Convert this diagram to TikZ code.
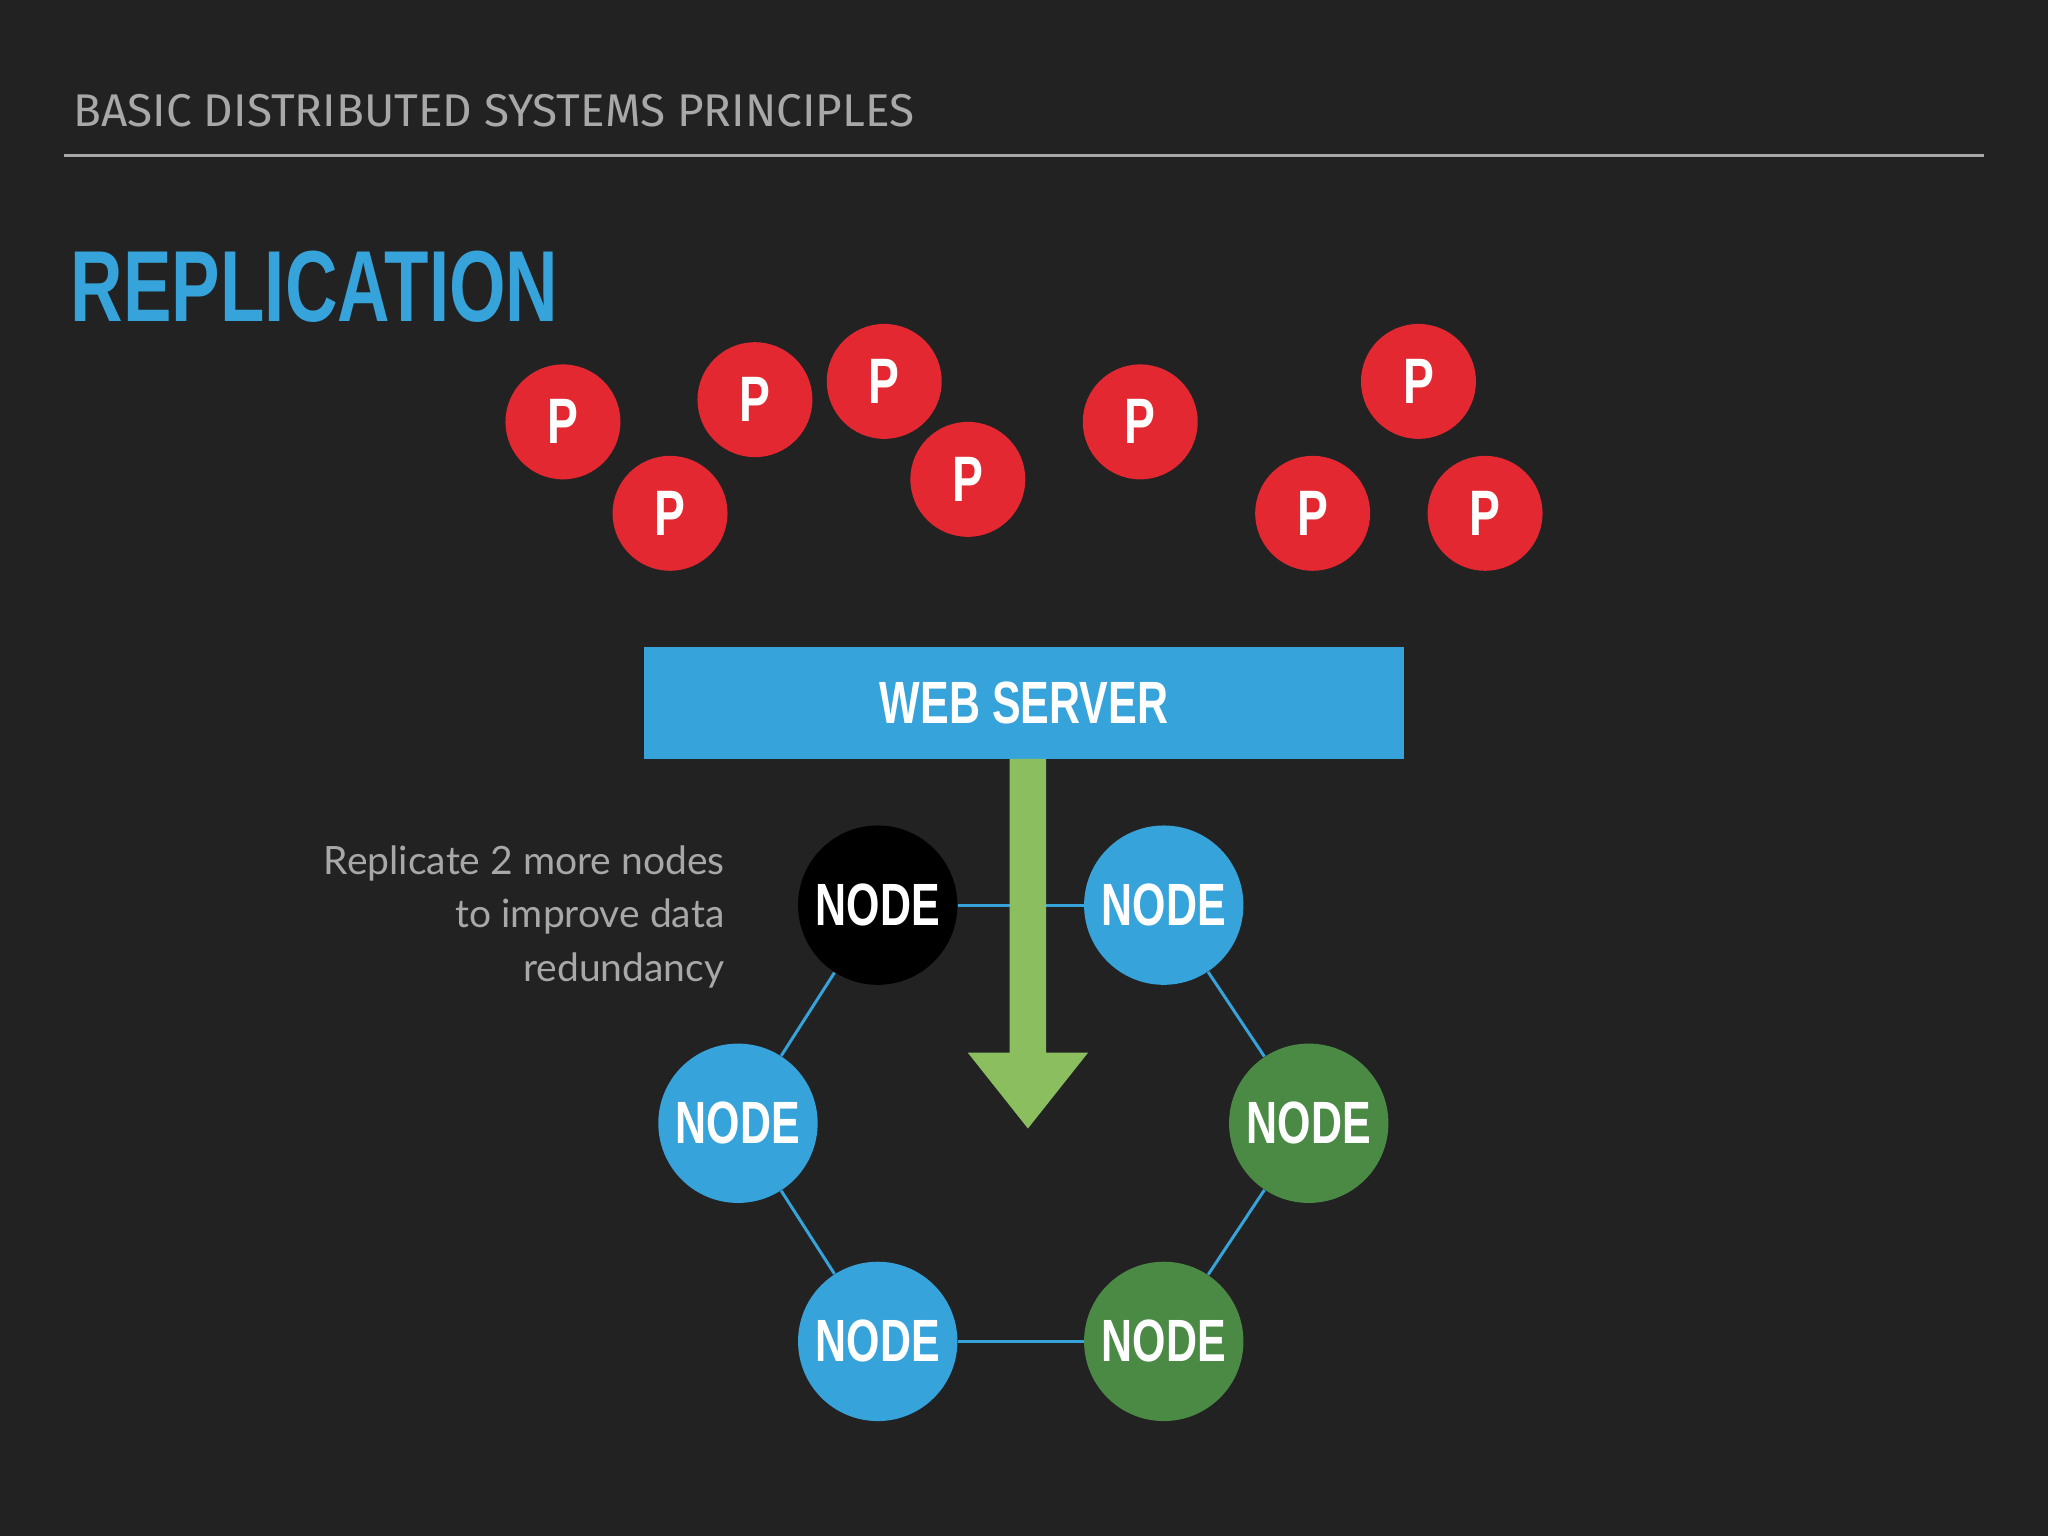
\documentclass[tikz,border=0pt]{standalone}
\usepackage{fontspec}
\setmainfont{Lato}
\newfontfamily\cond[FakeStretch=0.72]{Liberation Sans}
\newfontfamily\hdr{Fira Sans}
\definecolor{bg}{HTML}{222223}
\definecolor{pred}{HTML}{E32831}
\definecolor{sblue}{HTML}{36A3DA}
\definecolor{sgreen}{HTML}{4A8A45}
\definecolor{agreen}{HTML}{8BBE5E}
\definecolor{tgray}{HTML}{A8A8A8}
\begin{document}
\begin{tikzpicture}[x=0.02cm,y=-0.02cm,
  pnode/.style={circle,fill=pred,minimum size=88*0.02cm,inner sep=0,text=white,font=\cond\bfseries\fontsize{28}{30}\selectfont},
  rnode/.style={circle,minimum size=122*0.02cm,inner sep=0,text=white,font=\cond\bfseries\fontsize{26}{30}\selectfont},
  link/.style={draw=sblue,line width=1.3pt}]
\fill[bg] (0,0) rectangle (1568,1176);
\useasboundingbox (0,0) rectangle (1568,1176);
\node[anchor=base west,text=tgray,inner sep=0,font=\hdr\fontsize{20}{22}\selectfont] (hd) at (56,97) {BASIC DISTRIBUTED SYSTEMS PRINCIPLES};
\coordinate (la) at (49,119); \coordinate (lb) at (1519,119);
\draw[tgray,line width=1.5pt] (la) -- (lb);
\node[anchor=base west,text=sblue,inner sep=0,font=\cond\bfseries\fontsize{44}{46}\selectfont] (tt) at (54,246) {REPLICATION};
\foreach \n/\x/\y in {p1/431/323,p2/513/393,p3/578/306,p4/677/292,p5/741/367,p6/873/323,p7/1086/292,p8/1005/393,p9/1137/393}
  \node[pnode] (\n) at (\x,\y) {P};
\node[fill=sblue,minimum width=582*0.02cm,minimum height=86*0.02cm,inner sep=0,text=white,font=\cond\bfseries\fontsize{26}{30}\selectfont] (ws) at (784,538) {WEB SERVER};
\node[rnode,fill=black] (n1) at (672,693) {NODE};
\node[rnode,fill=sblue] (n2) at (891,693) {NODE};
\node[rnode,fill=sblue] (n3) at (565,860) {NODE};
\node[rnode,fill=sgreen] (n4) at (1002,860) {NODE};
\node[rnode,fill=sblue] (n5) at (672,1027) {NODE};
\node[rnode,fill=sgreen] (n6) at (891,1027) {NODE};
\draw[link] (n1) -- (n2); \draw[link] (n2) -- (n4); \draw[link] (n4) -- (n6);
\draw[link] (n6) -- (n5); \draw[link] (n5) -- (n3); \draw[link] (n3) -- (n1);
\fill[agreen] (773,581) -- (801,581) -- (801,806) -- (833,806) -- (787,864) -- (741,806) -- (773,806) -- cycle;
\node[anchor=east,align=right,text=tgray,inner sep=0,font=\fontsize{17}{23.5}\selectfont] (tx) at (555,702) {Replicate 2 more nodes\\to improve data\\redundancy};
\end{tikzpicture}
\end{document}
